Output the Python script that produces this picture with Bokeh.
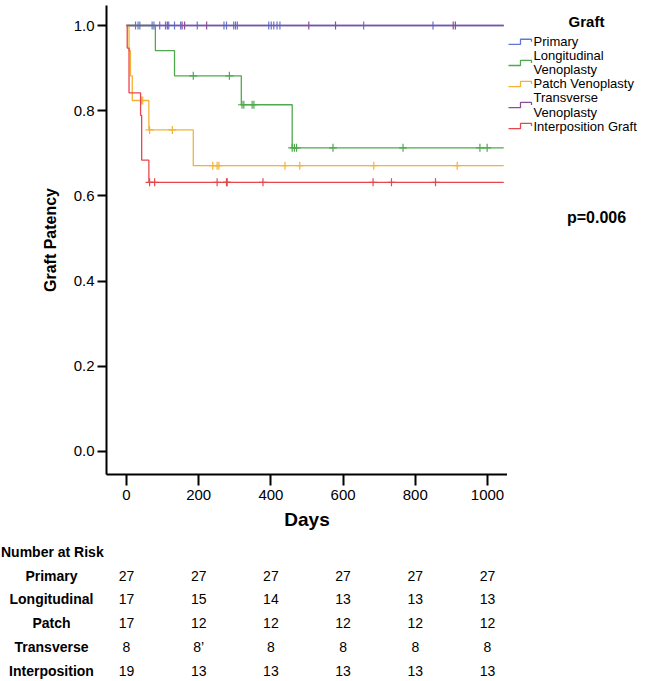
import numpy as np
from bokeh.plotting import figure
from bokeh.models import Range1d, FixedTicker, NumeralTickFormatter
from bokeh.layouts import row, column
from bokeh.embed import file_html
from bokeh.resources import INLINE
from bokeh.core.properties import value

# ---------------- data ----------------
group_names = ["Primary", "Longitudinal Venoplasty", "Patch Venoplasty",
               "Transverse Venoplasty", "Interposition Graft"]
legend_lines = [["Primary"], ["Longitudinal", "Venoplasty"], ["Patch Venoplasty"],
                ["Transverse", "Venoplasty"], ["Interposition Graft"]]
group_colors = ["#6178d2", "#4fa94f", "#f2b335", "#8d4c98", "#e8464d"]

primary_event_days = [0]
primary_surv = [1.0]
primary_censor_days = [25, 32, 37, 71, 76, 92, 108, 117, 133, 150, 196, 270, 277,
                       297, 302, 307, 394, 401, 408, 417, 425, 657, 849]

long_event_days = [0, 80, 133, 318, 459]
long_surv = [1.0, 0.941, 0.882, 0.814, 0.713]
long_censor_days = [185, 285, 320, 325, 348, 353, 459, 465, 471, 572, 766, 979, 999]

patch_event_days = [0, 7, 11, 16, 62, 185]
patch_surv = [1.0, 0.941, 0.882, 0.824, 0.755, 0.671]
patch_censor_days = [41, 45, 64, 127, 239, 251, 256, 439, 480, 685, 916]

trans_event_days = [0]
trans_surv = [1.0]
trans_censor_days = [113, 154, 161, 222, 505, 579, 905, 911]

interp_event_days = [0, 2, 7, 39, 42, 62]
interp_surv = [1.0, 0.947, 0.842, 0.789, 0.684, 0.632]
interp_censor_days = [64, 78, 251, 277, 279, 378, 683, 734, 856]

follow_up_end = 1045

x_ticks = [0, 200, 400, 600, 800, 1000]
y_ticks = [0.0, 0.2, 0.4, 0.6, 0.8, 1.0]

risk_days = [0, 200, 400, 600, 800, 1000]
risk_row_labels = ["Primary", "Longitudinal", "Patch", "Transverse", "Interposition"]
risk_primary = ["27", "27", "27", "27", "27", "27"]
risk_longitudinal = ["17", "15", "14", "13", "13", "13"]
risk_patch = ["17", "12", "12", "12", "12", "12"]
risk_transverse = ["8", "8\u2019", "8", "8", "8", "8"]
risk_interposition = ["19", "13", "13", "13", "13", "13"]
p_value_text = "p=0.006"

series = [
    (primary_event_days, primary_surv, primary_censor_days),
    (long_event_days, long_surv, long_censor_days),
    (patch_event_days, patch_surv, patch_censor_days),
    (trans_event_days, trans_surv, trans_censor_days),
    (interp_event_days, interp_surv, interp_censor_days),
]
risk_values = [risk_primary, risk_longitudinal, risk_patch, risk_transverse, risk_interposition]

# ---------------- layout constants ----------------
FONT = "Liberation Sans"
X0, X1 = -55.4, 1055.4
Y0, Y1 = -0.054, 1.047
LEFT, TOP, FW, FH, BOTTOM, RIGHTW = 106, 5, 401, 469, 64, 140
MAIN_H = TOP + FH + BOTTOM
TABLE_H = 143

# ---------------- main plot ----------------
p = figure(frame_width=FW, frame_height=FH, min_border_left=LEFT, min_border_right=0,
           min_border_top=TOP, min_border_bottom=BOTTOM,
           x_range=Range1d(X0, X1), y_range=Range1d(Y0, Y1),
           output_backend="svg", toolbar_location=None)
p.grid.visible = False
p.outline_line_color = None
p.background_fill_color = "white"

for ax in (p.xaxis[0], p.yaxis[0]):
    ax.axis_line_width = 2
    ax.axis_line_color = "black"
    ax.major_tick_line_width = 2
    ax.major_tick_line_color = "black"
    ax.major_tick_in = 0
    ax.minor_tick_line_color = None
    ax.major_label_text_font = FONT
    ax.major_label_text_font_size = "15px"
    ax.major_label_text_color = "black"
    ax.axis_label_text_font = FONT
    ax.axis_label_text_font_style = "bold"
    ax.axis_label_text_color = "black"

p.xaxis.ticker = FixedTicker(ticks=x_ticks)
p.xaxis.major_tick_out = 11
p.xaxis.major_label_standoff = 4
p.xaxis.axis_label = "Days"
p.xaxis.axis_label_text_font_size = "19px"
p.xaxis.axis_label_standoff = 6

p.yaxis.ticker = FixedTicker(ticks=y_ticks)
p.yaxis.formatter = NumeralTickFormatter(format="0.0")
p.yaxis.major_tick_out = 9
p.yaxis.major_label_standoff = 3
p.yaxis.axis_label = "Graft Patency"
p.yaxis.axis_label_text_font_size = "16px"
p.yaxis.axis_label_standoff = 12

for (ev, sv, cens), col in zip(series, group_colors):
    xs = list(ev) + [follow_up_end]
    ys = list(sv) + [sv[-1]]
    p.step(x=xs, y=ys, mode="after", line_color=col, line_width=1.3)
    idx = np.searchsorted(np.array(ev), np.array(cens), side="right") - 1
    cy = [sv[i] for i in idx]
    p.scatter(x=cens, y=cy, marker="cross", size=8, line_color=col, line_width=1.2)

# ---------------- legend panel ----------------
lg = figure(width=RIGHTW, height=MAIN_H, x_range=Range1d(0, RIGHTW), y_range=Range1d(MAIN_H, 0),
            x_axis_type=None, y_axis_type=None, min_border=0,
            output_backend="svg", toolbar_location=None)
lg.grid.visible = False
lg.outline_line_color = None

lg.text(x=[79], y=[18.7], text=["Graft"], text_align="center", text_baseline="middle",
        text_font=value(FONT), text_font_style="bold", text_font_size="15px", text_color="black")

line_y = 41.7
LINE_STEP = 16.1
for lines, col in zip(legend_lines, group_colors):
    ys = [line_y + i * LINE_STEP for i in range(len(lines))]
    c = float(np.mean(ys))
    lg.text(x=[26] * len(lines), y=ys, text=lines, text_align="left", text_baseline="middle",
            text_font=value(FONT), text_font_size="13px", text_color="black")
    lg.line(x=[1, 13, 13, 24, 24], y=[c + 3, c + 3, c - 3, c - 3, c], line_color=col, line_width=1.3)
    line_y += LINE_STEP * len(lines)

lg.text(x=[89], y=[243.3], text=[p_value_text], text_align="center", text_baseline="middle",
        text_font=value(FONT), text_font_style="bold", text_font_size="16px", text_color="black")

# ---------------- number-at-risk table ----------------
ppd = FW / (X1 - X0)
tx0 = X0 - LEFT / ppd
tx1 = X1 + RIGHTW / ppd
tb = figure(width=LEFT + FW + RIGHTW, height=TABLE_H, x_range=Range1d(tx0, tx1),
            y_range=Range1d(TABLE_H, 0), x_axis_type=None, y_axis_type=None, min_border=0,
            output_backend="svg", toolbar_location=None)
tb.grid.visible = False
tb.outline_line_color = None

tb.text(x=[tx0 + 0.5 / ppd], y=[13.7], text=["Number at Risk"], text_align="left",
        text_baseline="middle", text_font=value(FONT), text_font_style="bold",
        text_font_size="14px", text_color="black")
label_x = X0 + (51 - LEFT) / ppd
row_y0, row_dy = 37.0, 23.9
for i, (lab, vals) in enumerate(zip(risk_row_labels, risk_values)):
    y = row_y0 + i * row_dy
    tb.text(x=[label_x], y=[y], text=[lab], text_align="center", text_baseline="middle",
            text_font=value(FONT), text_font_style="bold", text_font_size="14px", text_color="black")
    tb.text(x=risk_days, y=[y] * len(risk_days), text=vals, text_align="center",
            text_baseline="middle", text_font=value(FONT), text_font_size="14px", text_color="black")

layout = column(row(p, lg, spacing=0), tb, spacing=0)
open("out.html", "w").write(file_html(layout, INLINE))
